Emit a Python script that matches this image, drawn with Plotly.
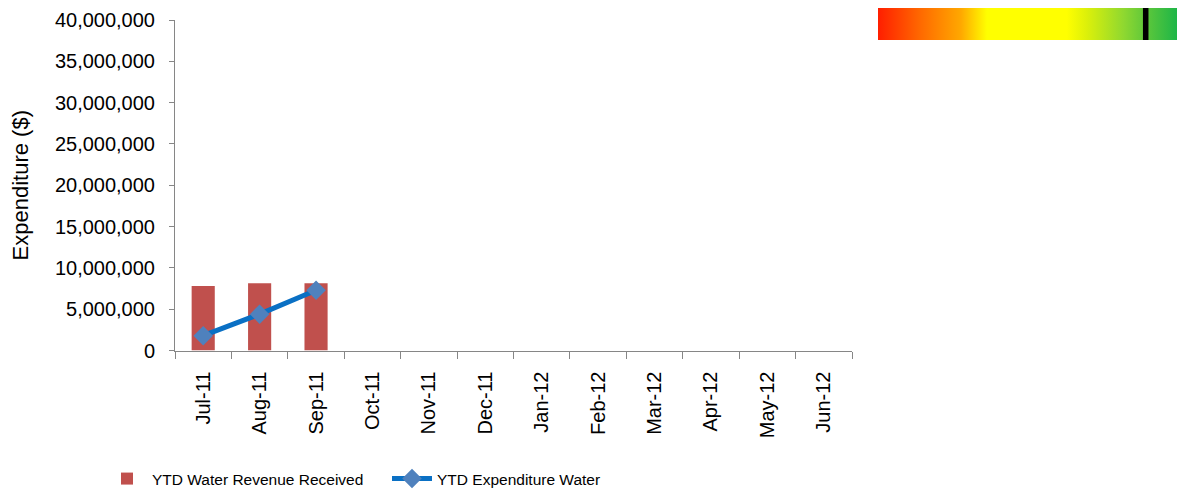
import plotly.graph_objects as go

months = ["Jul-11", "Aug-11", "Sep-11", "Oct-11", "Nov-11", "Dec-11",
          "Jan-12", "Feb-12", "Mar-12", "Apr-12", "May-12", "Jun-12"]
revenue = [7800000, 8150000, 8150000, None, None, None, None, None, None, None, None, None]
expenditure = [1800000, 4400000, 7300000, None, None, None, None, None, None, None, None, None]
y_ticks = [0, 5000000, 10000000, 15000000, 20000000, 25000000, 30000000, 35000000, 40000000]
gauge_value = 0.872

# page body has an 8px margin; size the figure so it ends exactly at the window edge
OFF = 8
W, H = 1185 - OFF, 493 - OFF
def px_x(v):
    return min(1.0, max(0.0, (v - OFF) / W))
def px_y(v):
    return min(1.0, max(0.0, 1 - (v - OFF) / H))

fig = go.Figure()
fig.add_trace(go.Bar(
    x=months, y=revenue, name="YTD Water Revenue Received",
    marker=dict(color="#C0504D", line=dict(width=0)),
))
fig.add_trace(go.Scatter(
    x=months, y=expenditure, name="YTD Expenditure Water",
    mode="lines+markers",
    line=dict(color="#0A70C4", width=5),
    marker=dict(symbol="diamond", size=15, color="#4F81BD"),
))

# gradient gauge
fig.add_trace(go.Scatter(
    x=[0, 1, 1, 0, 0], y=[0, 0, 1, 1, 0], xaxis="x2", yaxis="y2",
    mode="lines", fill="toself", line=dict(width=0),
    fillgradient=dict(type="horizontal", colorscale=[
        [0.0, "#FF1E00"], [0.14, "#FF6A00"], [0.27, "#FFA800"],
        [0.355, "#FFFF00"], [0.615, "#FFFF00"], [0.68, "#DCF00A"],
        [0.8, "#8FD830"], [0.87, "#60C83A"], [1.0, "#0DB14B"]]),
    showlegend=False, hoverinfo="skip",
))
fig.add_shape(type="rect", xref="x2", yref="y2",
              x0=gauge_value - 0.009, x1=gauge_value + 0.009, y0=0, y1=1,
              fillcolor="black", line=dict(width=0))

fig.update_layout(
    width=W, height=H, autosize=False,
    margin=dict(l=0, r=0, t=0, b=0, pad=0, autoexpand=False),
    paper_bgcolor="white", plot_bgcolor="white",
    font=dict(family="Liberation Sans, Arial, sans-serif", color="#000000"),
    bargap=0.59,
    showlegend=True,
    legend=dict(orientation="h", x=px_x(102), y=px_y(479), yanchor="middle", xanchor="left",
                font=dict(size=15.5), entrywidth=230, tracegroupgap=0, itemwidth=40),
    xaxis=dict(
        domain=[px_x(175), px_x(852)], automargin=False,
        type="category", tickson="boundaries", range=[-0.5, 11.5],
        showline=True, linecolor="#868686", linewidth=1,
        ticks="outside", ticklen=7, tickcolor="#868686",
        tickangle=-90, tickfont=dict(size=20), ticklabelstandoff=12,
        showgrid=False, zeroline=False,
    ),
    yaxis=dict(
        domain=[px_y(350.5), px_y(20)], automargin=False,
        range=[0, 40000000], tickvals=y_ticks,
        tickformat=",d",
        showline=True, linecolor="#868686", linewidth=1,
        ticks="outside", ticklen=5, tickcolor="#868686",
        tickfont=dict(size=20), ticklabelstandoff=10,
        showgrid=False, zeroline=False,
        title=dict(text="Expenditure ($)", font=dict(size=22), standoff=20),
    ),
    xaxis2=dict(domain=[px_x(878), 1.0], range=[0, 1], visible=False, fixedrange=True, automargin=False),
    yaxis2=dict(domain=[px_y(40), px_y(2)], range=[0, 1], visible=False, fixedrange=True, automargin=False),
)

fig.write_html("out.html")
